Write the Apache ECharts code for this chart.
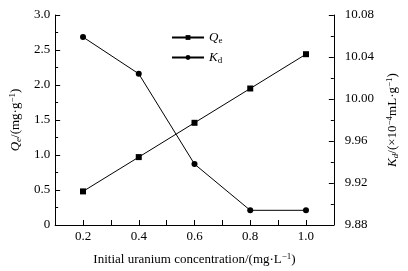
<!DOCTYPE html>
<html>
<head>
<meta charset="utf-8">
<script src="https://cdn.jsdelivr.net/npm/echarts@6/dist/echarts.min.js"></script>
<style>
  html, body { margin: 0; padding: 0; background: #fff; }
  #chart { width: 408px; height: 271px; }
</style>
</head>
<body>
<div id="chart"></div>
<script>
// data
var concentration = [0.2, 0.4, 0.6, 0.8, 1.0];
var qeValues = [0.48, 0.97, 1.46, 1.95, 2.44];
var kdValues = [10.059, 10.024, 9.938, 9.894, 9.894];

var font = "Liberation Serif";
var rich = {
  it: { fontFamily: font, fontSize: 13, fontStyle: "italic", color: "#000" },
  t: { fontFamily: font, fontSize: 13, color: "#000" },
  sub: { fontFamily: font, fontSize: 9, color: "#000", verticalAlign: "bottom", padding: [6, 0, 0, 0] },
  subi: { fontFamily: font, fontSize: 9, fontStyle: "italic", color: "#000", verticalAlign: "bottom", padding: [6, 0, 0, 0] },
  sup: { fontFamily: font, fontSize: 9, color: "#000", verticalAlign: "top", padding: [0, 0, 6, 0] }
};

function pairs(xs, ys) {
  var out = [];
  for (var i = 0; i < xs.length; i++) out.push([xs[i], ys[i]]);
  return out;
}

var axisLine = { show: true, lineStyle: { color: "#000", width: 1 } };
var tick = { show: true, inside: true, length: 5, lineStyle: { color: "#000" } };
var minor = { show: true, splitNumber: 2, length: 3, lineStyle: { color: "#000" } };
var labelStyle = { color: "#000", fontFamily: font, fontSize: 13 };

var myChart = echarts.init(document.getElementById("chart"));
myChart.setOption({
  animation: false,
  backgroundColor: "#fff",
  grid: { left: 45, right: 67, top: 15, bottom: 39 },
  legend: {
    orient: "vertical",
    left: 166,
    top: 26,
    itemWidth: 32,
    itemHeight: 6,
    itemGap: 6,
    data: ["Qe", "Kd"],
    formatter: function(name) {
      return name === "Qe" ? "{it|Q}{sub|e}" : "{it|K}{sub|d}";
    },
    textStyle: { rich: rich }
  },
  xAxis: {
    type: "value",
    min: 0.1,
    max: 1.1,
    interval: 0.1,
    axisLine: axisLine,
    axisTick: tick,
    splitLine: { show: false },
    axisLabel: Object.assign({}, labelStyle, {
      margin: 5,
      formatter: function(v) {
        var k = Math.round(v * 10);
        return k % 2 === 0 ? (k / 10).toFixed(1) : "";
      }
    }),
    name: "{t|Initial uranium concentration/(mg·L}{sup|−1}{t|)}",
    nameLocation: "middle",
    nameGap: 27,
    nameTextStyle: { rich: rich }
  },
  yAxis: [
    {
      type: "value",
      min: 0,
      max: 3,
      interval: 0.5,
      axisLine: axisLine,
      axisTick: tick,
      minorTick: minor,
      splitLine: { show: false },
      axisLabel: Object.assign({}, labelStyle, {
        margin: 5,
        formatter: function(v) { return v === 0 ? "0" : v.toFixed(1); }
      }),
      name: "{it|Q}{subi|e}{t|/(mg·g}{sup|−1}{t|)}",
      nameLocation: "middle",
      nameRotate: 90,
      nameGap: 27,
      nameTextStyle: { rich: rich }
    },
    {
      type: "value",
      min: 9.88,
      max: 10.08,
      interval: 0.04,
      position: "right",
      axisLine: axisLine,
      axisTick: tick,
      minorTick: minor,
      splitLine: { show: false },
      axisLabel: Object.assign({}, labelStyle, {
        margin: 11,
        formatter: function(v) { return v.toFixed(2); }
      }),
      name: "{it|K}{subi|d}{t|/(×10}{sup|−4}{t|mL·g}{sup|−1}{t|)}",
      nameLocation: "middle",
      nameRotate: 90,
      nameGap: 48,
      nameTextStyle: { rich: rich }
    }
  ],
  series: [
    {
      name: "Qe",
      type: "line",
      yAxisIndex: 0,
      data: pairs(concentration, qeValues),
      symbol: "rect",
      symbolSize: 6,
      itemStyle: { color: "#000" },
      lineStyle: { color: "#000", width: 1 }
    },
    {
      name: "Kd",
      type: "line",
      yAxisIndex: 1,
      data: pairs(concentration, kdValues),
      symbol: "circle",
      symbolSize: 6,
      itemStyle: { color: "#000" },
      lineStyle: { color: "#000", width: 1 }
    }
  ]
});
</script>
</body>
</html>
